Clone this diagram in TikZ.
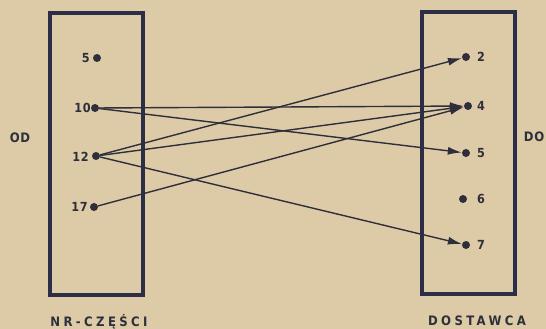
\documentclass[tikz,border=0pt]{standalone}
\usepackage{fontspec}
\setmainfont{DejaVu Sans}
\newfontfamily\labfont[LetterSpace=26]{DejaVu Sans Condensed Bold}
\newfontfamily\sidefont[LetterSpace=6]{DejaVu Sans Condensed Bold}
\newfontfamily\numfont[LetterSpace=6]{DejaVu Sans Condensed Bold}
\usetikzlibrary{arrows.meta}
\definecolor{paper}{HTML}{DDCBA8}
\definecolor{navy}{HTML}{2C2E48}
\definecolor{ink}{HTML}{2E2F3A}
\tikzset{
  panel/.style={draw=navy, line width=3.4pt},
  pin/.style={circle, fill=ink, inner sep=0pt, minimum size=8pt},
  numl/.style={font=\numfont\fontsize{12.5}{14}\selectfont, text=ink, inner sep=0pt},
  title/.style={font=\labfont\fontsize{13}{15}\selectfont, text=ink, inner sep=0pt},
  sidelab/.style={font=\sidefont\fontsize{13}{15}\selectfont, text=ink, inner sep=0pt},
  link/.style={draw=ink, line width=1.4pt, -{Latex[length=14pt,width=8pt]}}
}
\begin{document}
\begin{tikzpicture}[x=1pt,y=-1pt]
\fill[paper] (0,0) rectangle (546,329);
\useasboundingbox (0,0) rectangle (546,329);
% boxes
\draw[panel] (50,13) rectangle (143,295);
\draw[panel] (422,12) rectangle (515,294);
% left pins
\node[pin] (l5) at (97,58) {};
\node[pin] (l10) at (95,108) {};
\node[pin] (l12) at (96,156) {};
\node[pin] (l17) at (94,207) {};
\node[numl, anchor=east] (t5) at (90,58) {5};
\node[numl, anchor=east] (t10) at (91,108) {10};
\node[numl, anchor=east] (t12) at (89,157) {12};
\node[numl, anchor=east] (t17) at (88,207) {17};
% right pins
\node[pin] (r2) at (466,57) {};
\node[pin] (r4) at (468,106) {};
\node[pin] (r5) at (466,153) {};
\node[pin] (r6) at (463,199) {};
\node[pin] (r7) at (466,245) {};
\node[numl, anchor=west] (u2) at (477,57) {2};
\node[numl, anchor=west] (u4) at (477,106) {4};
\node[numl, anchor=west] (u5) at (477,153) {5};
\node[numl, anchor=west] (u6) at (477,199) {6};
\node[numl, anchor=west] (u7) at (477,245) {7};
% side labels
\node[sidelab] (od) at (20,138) {OD};
\node[sidelab] (do) at (534,137) {DO};
\node[title] (nr) at (99,322) {NR-CZĘŚCI};
\node[title] (dost) at (477,321) {DOSTAWCA};
% connectors
\draw[link] (l10) -- (r4);
\draw[link] (l10) -- (r5);
\draw[link] (l12) -- (r2);
\draw[link] (l12) -- (r4);
\draw[link] (l12) -- (r7);
\draw[link] (l17) -- (r4);
\end{tikzpicture}
\end{document}
